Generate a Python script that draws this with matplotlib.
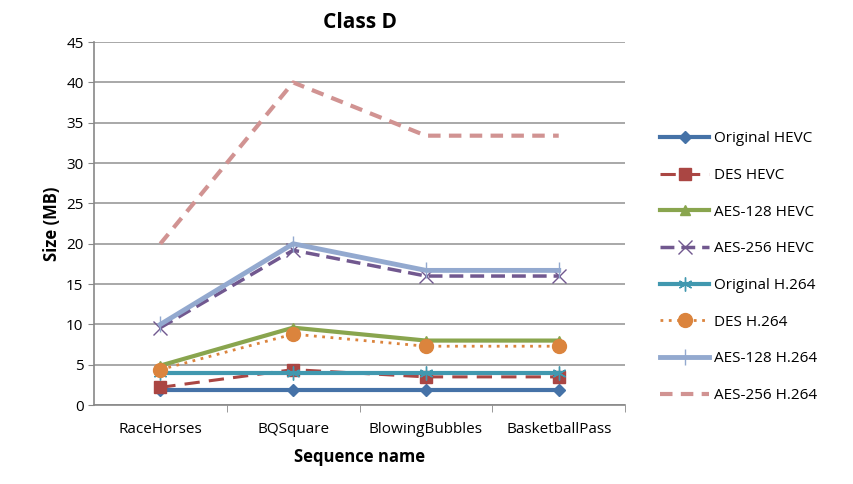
import matplotlib.pyplot as plt

sequences = ["RaceHorses", "BQSquare", "BlowingBubbles", "BasketballPass"]

original_hevc = [1.9, 1.9, 1.9, 1.9]
des_hevc = [2.2, 4.4, 3.5, 3.5]
aes128_hevc = [4.9, 9.6, 8.0, 8.0]
aes256_hevc = [9.6, 19.2, 16.0, 16.0]
original_h264 = [4.0, 4.0, 4.0, 4.0]
des_h264 = [4.4, 8.8, 7.3, 7.3]
aes128_h264 = [10.0, 20.0, 16.7, 16.7]
aes256_h264 = [20.0, 40.0, 33.4, 33.4]

plt.rcParams['font.family'] = ['Open Sans', 'DejaVu Sans']

fig = plt.figure(figsize=(8.54, 4.84), dpi=100)
ax = fig.add_axes([0.110, 0.163, 0.622, 0.750])
x = range(len(sequences))

ax.plot(x, original_hevc, color='#4572A7', lw=3, marker='D', ms=6, label='Original HEVC')
ax.plot(x, des_hevc, color='#AA4643', lw=2.2, ls=(0, (5, 3)), marker='s', ms=9, label='DES HEVC')
ax.plot(x, aes128_hevc, color='#89A54E', lw=3, marker='^', ms=7, label='AES-128 HEVC')
ax.plot(x, aes256_hevc, color='#71588F', lw=2.5, ls=(0, (4, 2)), marker='x', ms=10, mew=1, label='AES-256 HEVC')
ax.plot(x, original_h264, color='#4198AF', lw=3, marker=(6, 2, 0), ms=10, mew=1, label='Original H.264')
ax.plot(x, des_h264, color='#DB843D', lw=2, ls=(0, (1, 2)), marker='o', ms=10, label='DES H.264')
ax.plot(x, aes128_h264, color='#93A9CF', lw=3.5, marker='|', ms=11, mew=1, label='AES-128 H.264')
ax.plot(x, aes256_h264, color='#D19392', lw=3, ls=(0, (3, 2)), label='AES-256 H.264')

ax.set_xlim(-0.5, 3.5)
ax.set_ylim(0, 45)
ax.set_yticks(range(0, 46, 5))
ax.set_xticks(list(x))
ax.set_xticklabels(sequences, fontsize=11)
ax.tick_params(axis='y', labelsize=11, length=4, color='#888888')
ax.tick_params(axis='x', length=0, pad=12)
ax.set_xticks([0.5, 1.5, 2.5, 3.5], minor=True)
ax.tick_params(axis='x', which='minor', length=5, color='#888888')
ax.grid(axis='y', color='#999999', lw=1.2)
ax.set_axisbelow(True)
for side in ['top', 'right']:
    ax.spines[side].set_visible(False)
for side in ['left', 'bottom']:
    ax.spines[side].set_color('#888888')
    ax.spines[side].set_linewidth(1.2)

ax.set_title('Class D', fontsize=15, fontweight='bold', pad=10)
ax.set_xlabel('Sequence name', fontsize=12, fontweight='bold', labelpad=8)
ax.set_ylabel('Size (MB)', fontsize=12, fontweight='bold')

ax.legend(loc='center left', bbox_to_anchor=(1.04, 0.38), frameon=False,
          fontsize=11, labelspacing=1.42, handlelength=3.2, handletextpad=0.3)

fig.savefig('out.png', dpi=100)
